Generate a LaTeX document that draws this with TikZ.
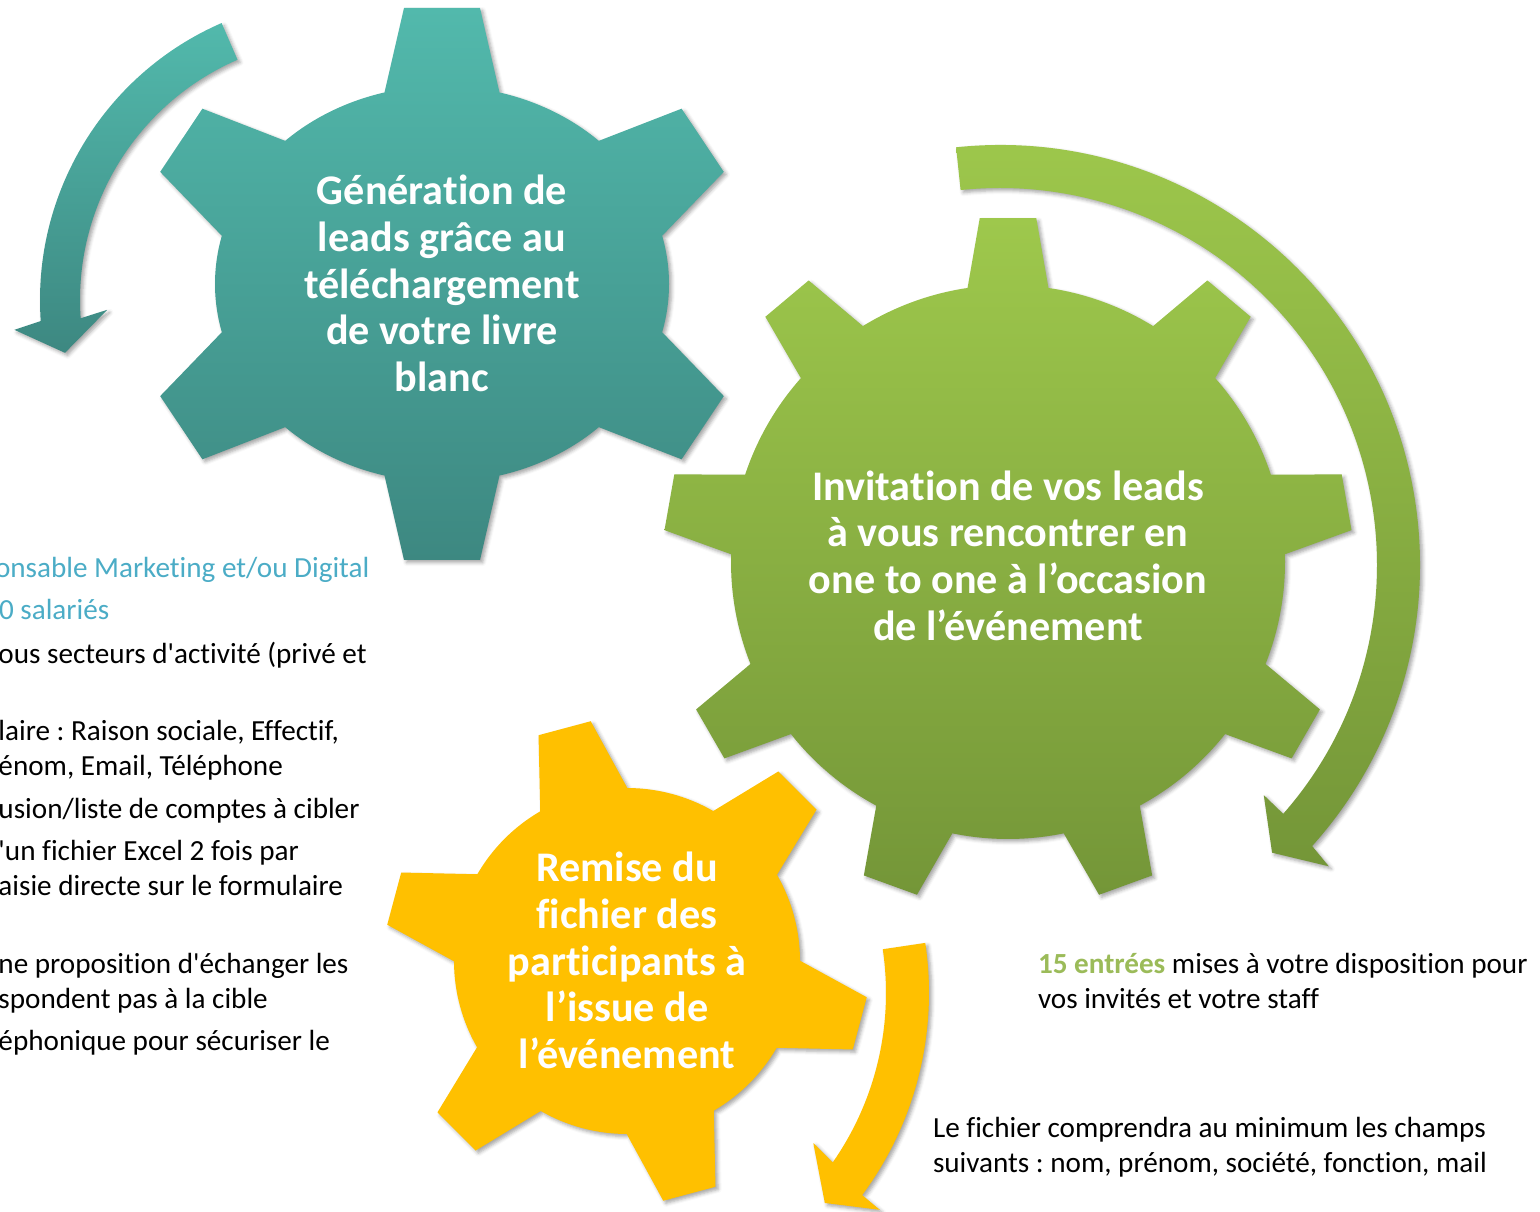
\documentclass[tikz,border=0pt]{standalone}
\usepackage{fontspec}
\setmainfont{Carlito}[Ligatures={TeXOff,NoCommon}]
\usetikzlibrary{shadows.blur}
\definecolor{tealtop}{RGB}{82,185,172}
\definecolor{tealbot}{RGB}{61,136,129}
\definecolor{greentop}{RGB}{158,200,76}
\definecolor{greenbot}{RGB}{116,150,56}
\definecolor{gearyellow}{RGB}{255,192,0}
\definecolor{listblue}{RGB}{75,172,198}
\definecolor{listgreen}{RGB}{155,187,89}
\frenchspacing
\begin{document}
\begin{tikzpicture}[x=0.02cm,y=0.02cm,inner sep=0pt,outer sep=0pt,
softshadow/.style={blur shadow={shadow xshift=1.5pt,shadow yshift=-1.5pt,shadow blur radius=2pt,shadow opacity=35}},
tealpart/.style={softshadow,top color=tealtop,bottom color=tealbot},
greenpart/.style={softshadow,top color=greentop,bottom color=greenbot},
yellowpart/.style={softshadow,fill=gearyellow},
geartext/.style={align=center,text=white,font=\fontsize{24}{26.6}\selectfont\bfseries},
listtext/.style={anchor=base west,font=\fontsize{16.6}{19.9}\selectfont}]
\useasboundingbox (0,0) rectangle (1540,1211);
\clip (0,0) rectangle (1540,1211);

\begin{scope}[shift={(342,911)}]
\path[tealpart] (113.5:302) arc[start angle=113.5,end angle=184,radius=302] -- (185.2:329) -- (190.8:282) -- (182.4:235) -- (184:262) arc[start angle=184,end angle=113.5,radius=262] -- cycle;
\end{scope}
\begin{scope}[shift={(442,927)},x radius=227,y radius=198]
\path[tealpart] (75.33:227 and 198) -- (38,276) -- (-38,276) -- (104.67:227 and 198)
  arc[start angle=104.67,end angle=133.7] -- (-239.6,175.3) -- (-281.8,112.1) -- (165.9:227 and 198)
  arc[start angle=165.9,end angle=194.1] -- (-281.8,-112.1) -- (-239.6,-175.3) -- (226.3:227 and 198)
  arc[start angle=226.3,end angle=255.33] -- (-38,-276) -- (38,-276) -- (284.67:227 and 198)
  arc[start angle=284.67,end angle=313.7] -- (239.6,-175.3) -- (281.8,-112.1) -- (345.9:227 and 198)
  arc[start angle=345.9,end angle=374.1] -- (281.8,112.1) -- (239.6,175.3) -- (406.3:227 and 198)
  arc[start angle=406.3,end angle=435.33] -- cycle;
\end{scope}
\draw (442,927.5) node[geartext] (lead) {Génération de\\leads grâce au\\téléchargement\\de votre livre\\blanc};

\begin{scope}[shift={(1000,646)}]
\path[greenpart] (96:420) arc[start angle=96,end angle=-42,radius=420] -- (-42.5:446) -- (-46.6:396) -- (-41.1:350) -- (-41.3:377) arc[start angle=-41.3,end angle=96,radius=377] -- cycle;
\end{scope}
\begin{scope}[shift={(1008,649)}]
\path[greenpart] (81.6:277) foreach \a in {90,130,...,410} {-- (\a-4.7:345) -- (\a+4.7:345) -- (\a+8.4:277) arc[start angle=\a+8.4,end angle=\a+31.6,radius=277]} -- cycle;
\end{scope}
\draw (1008,655.5) node[geartext] (invite) {Invitation de vos leads\\à vous rencontrer en\\one to one à l’occasion\\de l’événement};

\begin{scope}[shift={(627,250)}]
\path[yellowpart] (89.9:173) foreach \a in {105,165,...,405} {-- (\a-6.4:242.5) -- (\a+6.4:242.5) -- (\a+15.1:173) arc[start angle=\a+15.1,end angle=\a+44.9,radius=173]} -- cycle;
\end{scope}
\draw (627,250.5) node[geartext] (remise) {Remise du\\fichier des\\participants à\\l’issue de\\l’événement};
\begin{scope}[shift={(590,218)}]
\path[yellowpart] (8.5:296) arc[start angle=8.5,end angle=-34.9,radius=296] -- (-33.9:269) -- (-41.8:315) -- (-36.8:362) -- (-36.6:339) arc[start angle=-36.6,end angle=8.5,radius=339] -- cycle;
\end{scope}

\draw (-5,633) node[listtext,text=listblue] (cible1) {onsable Marketing et/ou Digital};
\draw (-1,591) node[listtext,text=listblue] (cible2) {0 salariés};
\foreach \y/\t [count=\i] in {655/{ous secteurs d'activité (privé et},
  732/{laire : Raison sociale, Effectif,},
  767/{énom, Email, Téléphone},
  810/{usion/liste de comptes à cibler},
  852/{'un fichier Excel 2 fois par},
  887/{aisie directe sur le formulaire},
  965/{ne proposition d'échanger les},
  1000/{spondent pas à la cible},
  1042/{éphonique pour sécuriser le}}
  \draw (-1.5,1203-\y) node[listtext] (liste\i) {\t};

\draw (1038,238) node[listtext] (entrees1) {{\color{listgreen}\bfseries 15 entrées} mises à votre disposition pour};
\draw (1038,203) node[listtext] (entrees2) {vos invités et votre staff};
\draw (933,74) node[listtext] (fichier1) {Le fichier comprendra au minimum les champs};
\draw (933,39) node[listtext] (fichier2) {suivants : nom, prénom, société, fonction, mail};
\end{tikzpicture}
\end{document}
